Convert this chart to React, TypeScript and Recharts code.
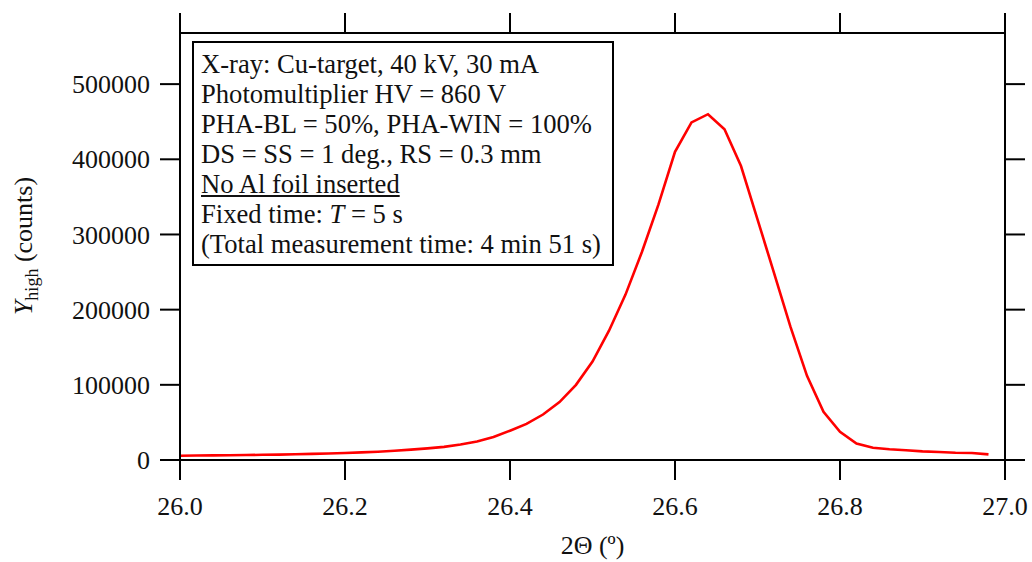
import { LineChart, Line, XAxis, YAxis, Label } from "recharts";

// 2-theta scan, 0.02 deg steps
const twoTheta = [
  26.0, 26.02, 26.04, 26.06, 26.08, 26.1, 26.12, 26.14, 26.16, 26.18,
  26.2, 26.22, 26.24, 26.26, 26.28, 26.3, 26.32, 26.34, 26.36, 26.38,
  26.4, 26.42, 26.44, 26.46, 26.48, 26.5, 26.52, 26.54, 26.56, 26.58,
  26.6, 26.62, 26.64, 26.66, 26.68, 26.7, 26.72, 26.74, 26.76, 26.78,
  26.8, 26.82, 26.84, 26.86, 26.88, 26.9, 26.92, 26.94, 26.96, 26.98,
];
const yHigh = [
  5700, 5900, 6100, 6300, 6600, 6900, 7200, 7600, 8100, 8700,
  9300, 10100, 11000, 12300, 13800, 15500, 17500, 20500, 24500, 30500,
  39000, 48000, 60500, 77000, 100000, 131000, 172000, 220000, 277000, 340000,
  410000, 449000, 460000, 440000, 391000, 320000, 249000, 177000, 112000, 64000,
  37600, 22000, 16400, 14200, 12900, 11500, 10600, 9700, 9300, 7500,
];
const xTicks = [26.0, 26.2, 26.4, 26.6, 26.8, 27.0];
const yTicks = [0, 100000, 200000, 300000, 400000, 500000];
const infoLines = [
  "X-ray: Cu-target, 40 kV, 30 mA",
  "Photomultiplier HV = 860 V",
  "PHA-BL = 50%, PHA-WIN = 100%",
  "DS = SS = 1 deg., RS = 0.3 mm",
  "No Al foil inserted",
  "Fixed time: T = 5 s",
  "(Total measurement time: 4 min 51 s)",
];

const data = twoTheta.map((x, i) => ({ x, y: yHigh[i] }));

const FONT = '"Liberation Serif", "Times New Roman", serif';
const FS = 26;
const TICK_LEN = 20;
const axisStroke = { stroke: "#000", strokeWidth: 2 };

// recharts wasn't drawing the tick lines here, so each tick draws its own
// mark back from the label anchor (x/y are the label position).
type TickProps = {
  x?: number;
  y?: number;
  payload?: { value: number };
  side: "top" | "bottom" | "left" | "right";
  gap: number;
  fmt?: (v: number) => string;
};

function Tick({ x = 0, y = 0, payload, side, gap, fmt }: TickProps) {
  let line;
  if (side === "bottom") line = { x1: x, x2: x, y1: y - gap, y2: y - gap - TICK_LEN };
  else if (side === "top") line = { x1: x, x2: x, y1: y + gap, y2: y + gap + TICK_LEN };
  else if (side === "left") line = { x1: x + gap, x2: x + gap + TICK_LEN, y1: y, y2: y };
  else line = { x1: x - gap, x2: x - gap - TICK_LEN, y1: y, y2: y };
  return (
    <g>
      <line {...line} stroke="#000" strokeWidth={2} />
      {fmt && payload ? (
        <text
          x={x}
          y={y}
          dy={side === "bottom" ? "0.71em" : "0.35em"}
          textAnchor={side === "left" ? "end" : "middle"}
          fontFamily={FONT}
          fontSize={FS}
          fill="#111"
        >
          {fmt(payload.value)}
        </text>
      ) : null}
    </g>
  );
}

function YLabel() {
  return (
    <text
      transform="translate(32,246) rotate(-90)"
      textAnchor="middle"
      fontFamily={FONT}
      fontSize={26}
      fill="#111"
    >
      <tspan fontStyle="italic">Y</tspan>
      <tspan fontSize={18} dy={6}>high</tspan>
      <tspan dy={-6}> (counts)</tspan>
    </text>
  );
}

function InfoLine({ text }: { text: string }) {
  if (text.startsWith("No Al")) {
    return <div style={{ textDecoration: "underline" }}>{text}</div>;
  }
  if (text.startsWith("Fixed time")) {
    return (
      <div>
        Fixed time: <i>T</i> = 5 s
      </div>
    );
  }
  return <div>{text}</div>;
}

export default function App() {
  return (
    <div style={{ position: "absolute", left: 0, top: 0, width: 1032, height: 562, background: "#fff" }}>
      <LineChart
        width={1032}
        height={562}
        data={data}
        margin={{ top: 0, right: 0, left: 0, bottom: 0 }}
      >
        <XAxis
          xAxisId="bottom"
          dataKey="x"
          type="number"
          domain={[26, 27]}
          ticks={xTicks}
          orientation="bottom"
          height={102}
          tickSize={TICK_LEN}
          tickMargin={17}
          tickLine={false}
          tick={<Tick side="bottom" gap={17} fmt={(v) => v.toFixed(1)} />}
          axisLine={axisStroke}
          allowDataOverflow
        >
          <Label
            value="2Θ (º)"
            position="insideTop"
            offset={76}
            style={{ fill: "#111", fontSize: 26, fontFamily: FONT }}
          />
        </XAxis>
        <XAxis
          xAxisId="top"
          dataKey="x"
          type="number"
          domain={[26, 27]}
          ticks={xTicks}
          orientation="top"
          height={33}
          tickSize={TICK_LEN}
          tickMargin={0}
          tickLine={false}
          tick={<Tick side="top" gap={0} />}
          axisLine={axisStroke}
          allowDataOverflow
        />
        <YAxis
          yAxisId="left"
          type="number"
          domain={[0, 568000]}
          ticks={yTicks}
          orientation="left"
          width={180}
          tickSize={TICK_LEN}
          tickMargin={10}
          tickLine={false}
          tick={<Tick side="left" gap={10} fmt={(v) => String(v)} />}
          axisLine={axisStroke}
          allowDataOverflow
        >
          <Label content={<YLabel />} />
        </YAxis>
        <YAxis
          yAxisId="right"
          type="number"
          domain={[0, 568000]}
          ticks={yTicks}
          orientation="right"
          width={27}
          tickSize={TICK_LEN}
          tickMargin={0}
          tickLine={false}
          tick={<Tick side="right" gap={0} />}
          axisLine={axisStroke}
          allowDataOverflow
        />
        <Line
          xAxisId="bottom"
          yAxisId="left"
          type="linear"
          dataKey="y"
          stroke="#ff0000"
          strokeWidth={2.6}
          dot={false}
          isAnimationActive={false}
        />
      </LineChart>
      <div
        style={{
          position: "absolute",
          left: 192,
          top: 41,
          width: 422,
          height: 225,
          border: "2px solid #000",
          fontFamily: FONT,
          fontSize: 26.6,
          lineHeight: "30px",
          color: "#111",
          padding: "6px 0 0 7px",
          boxSizing: "border-box",
          background: "#fff",
          whiteSpace: "nowrap",
        }}
      >
        {infoLines.map((t) => (
          <InfoLine key={t} text={t} />
        ))}
      </div>
    </div>
  );
}
